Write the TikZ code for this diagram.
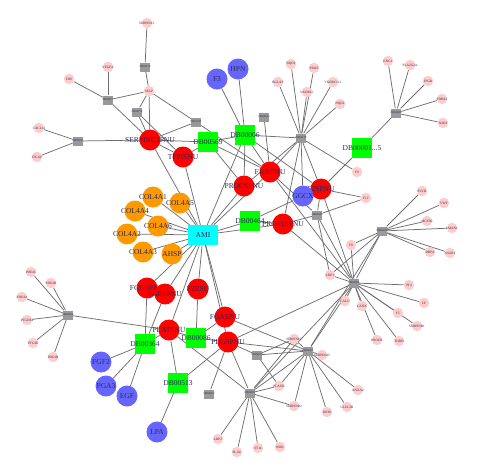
\documentclass[tikz,border=0pt]{standalone}
\usepackage{fontspec}
\setmainfont{Liberation Serif}
\usetikzlibrary{backgrounds}
\definecolor{nred}{HTML}{FF0000}
\definecolor{nora}{HTML}{FF9900}
\definecolor{nblue}{HTML}{6666FF}
\definecolor{ngreen}{HTML}{00FF00}
\definecolor{ncyan}{HTML}{00FFFF}
\definecolor{npink}{HTML}{FFCCCC}
\definecolor{ngray}{HTML}{999999}
\definecolor{nedge}{HTML}{6E6E6E}
\definecolor{ntext}{HTML}{2A2A5A}
\tikzset{
  lab/.style={label={[font=\fontsize{7.5}{7.5}\selectfont, text=ntext, inner sep=0pt]center:#1}},
  slab/.style={label={[font=\fontsize{3.4}{3.4}\selectfont, text=ntext, inner sep=0pt]center:#1}},
  glab/.style={label={[font=\fontsize{2.8}{2.8}\selectfont, text=ntext, inner sep=0pt]center:#1}},
  bigc/.style={circle, minimum size=21pt, inner sep=0pt, draw=none},
  rednode/.style={bigc, fill=nred, lab=#1},
  blunode/.style={bigc, fill=nblue, lab=#1},
  oranode/.style={bigc, fill=nora, lab=#1},
  grnnode/.style={rectangle, minimum size=20pt, inner sep=0pt, fill=ngreen, lab=#1},
  cynnode/.style={rectangle, minimum width=30pt, minimum height=20pt, inner sep=0pt, fill=ncyan, lab=#1},
  pnknode/.style={circle, minimum size=10.5pt, inner sep=0pt, fill=npink, slab=#1},
  grynode/.style={rectangle, minimum width=10pt, minimum height=9pt, inner sep=0pt, fill=ngray, glab=#1},
  edge/.style={draw=nedge, line width=0.75pt}
}
\begin{document}
\begin{tikzpicture}[x=1pt,y=-1pt]
\useasboundingbox (0,0) rectangle (496,475);
% red
\node[rednode=SERPINC1PNU] (serpc) at (150,140) {};
\node[rednode=TFPISNU] (tfpi) at (183,157) {};
\node[rednode=F10SPNU] (f10) at (270,172) {};
\node[rednode=PROCSPNU] (proc) at (244,186) {};
\node[rednode=F2SPNU] (f2) at (321,189) {};
\node[rednode=PROS1SPNU] (pros1) at (283,224) {};
\node[rednode=FGGSPNU] (fgg) at (147,288) {};
\node[rednode=FGBSPNU] (fgb) at (165,294) {};
\node[rednode=F2RSU] (f2r) at (198,289) {};
\node[rednode=FGASNU] (fga) at (225,317) {};
\node[rednode=PLGSPNU] (plg) at (228,342) {};
\node[rednode=PLATSNU] (plat) at (169,330) {};
% blue
\node[blunode=F3] (f3) at (217,79) {};
\node[blunode=HPN] (hpn) at (238,69) {};
\node[blunode=GGCX] (ggcx) at (303,196) {};
\node[blunode=FGF2] (fgf2) at (101,362) {};
\node[blunode=PGA3] (pga3) at (106,386) {};
\node[blunode=EGF] (egf) at (127,396) {};
\node[blunode=LPA] (lpa) at (157,432) {};
% orange
\node[oranode=COL4A1] (c1) at (153,197) {};
\node[oranode=COL4A5] (c5) at (180,203) {};
\node[oranode=COL4A4] (c4) at (135,211) {};
\node[oranode=COL4A6] (c6) at (158,226) {};
\node[oranode=COL4A2] (c2) at (127,234) {};
\node[oranode=COL4A3] (c3) at (143,252) {};
\node[oranode=AHSP] (ahsp) at (172,254) {};
% cyan
\node[cynnode=AMI] (ami) at (203,235) {};
% green
\node[grnnode=DB00569] (db569) at (208,142) {};
\node[grnnode=DB00006] (db006) at (245,135) {};
\node[grnnode=DB00464] (db464) at (250,221) {};
\node[grnnode=DB00001...5] (db001) at (362,148) {};
\node[grnnode=DB00364] (db364) at (145,344) {};
\node[grnnode=DB00086] (db086) at (196,338) {};
\node[grnnode=DB00513] (db513) at (178,383) {};
% gray
\node[grynode=DB00877] (gv) at (108,100) {};
\node[grynode=DB00181] (gc) at (78,141) {};
\node[grynode=DB00279] (gs) at (145,67) {};
\node[grynode=DB04779] (g4) at (137,112) {};
\node[grynode=DB01109] (g5) at (196,122) {};
\node[grynode=DB00623] (g6) at (264,117) {};
\node[grynode=DB00170] (g7) at (301,138) {};
\node[grynode=DB04895] (g8) at (396,113) {};
\node[grynode=DB00025] (g9) at (317,215) {};
\node[grynode=DB00025] (g10) at (382,231) {};
\node[grynode=DB00006] (g11) at (354,283) {};
\node[grynode=DB00094] (g12) at (68,315) {};
\node[grynode=DB00002] (g13) at (209,394) {};
\node[grynode=DB00031] (g14) at (250,393) {};
\node[grynode=DB00013] (g15) at (257,355) {};
\node[grynode=DB00001] (g16) at (308,351) {};
% pink
\node[pnknode=SERPINC1] (serpinc1) at (147,23) {};
\node[pnknode=SELP] (selp) at (149,91) {};
\node[pnknode=VEGFA] (vegfa) at (108,67) {};
\node[pnknode=FOS] (fos) at (69,79) {};
\node[pnknode=CXCL12] (cxcl) at (39,128) {};
\node[pnknode=ITGAV] (itgav) at (37,157) {};
\node[pnknode=BGLAP] (bglap) at (278,82) {};
\node[pnknode=NQO1] (nqo1) at (291,64) {};
\node[pnknode=PROZ] (proz) at (314,68) {};
\node[pnknode=VKORC1] (vkorc1) at (307,92) {};
\node[pnknode=VKORC1L1] (vkorc1l1) at (333,82) {};
\node[pnknode=NQO2] (nqo2) at (340,104) {};
\node[pnknode=KNG1] (p1) at (388,61) {};
\node[pnknode=PLA2G2A] (p2) at (410,65) {};
\node[pnknode=FSGR] (p3) at (428,81) {};
\node[pnknode=PDRX2] (p4) at (442,99) {};
\node[pnknode=SOD3] (p5) at (443,123) {};
\node[pnknode=F9] (f9) at (357,172) {};
\node[pnknode=F12] (f12) at (366,198) {};
\node[pnknode=F8] (f8) at (351,245) {};
\node[pnknode=LRP1] (lrp1) at (330,275) {};
\node[pnknode=CALU] (calu) at (345,301) {};
\node[pnknode=CANX] (canx) at (362,306) {};
\node[pnknode=PLVD] (q1) at (422,191) {};
\node[pnknode=VWF] (vwf) at (444,203) {};
\node[pnknode=MCFD2] (mcfd2) at (427,221) {};
\node[pnknode=LMAN1] (lman1) at (452,228) {};
\node[pnknode=DDPA] (q5) at (430,252) {};
\node[pnknode=ASGR1] (q6) at (450,253) {};
\node[pnknode=PF4] (pf4) at (409,285) {};
\node[pnknode=CP] (cp) at (424,303) {};
\node[pnknode=F5] (f5) at (398,313) {};
\node[pnknode=SERPIND1] (serpind1) at (417,326) {};
\node[pnknode=PROCR] (procr) at (377,340) {};
\node[pnknode=THBD] (thbd) at (399,341) {};
\node[pnknode=PDE4C] (pde4c) at (31,272) {};
\node[pnknode=PDE4D] (pde4d) at (51,283) {};
\node[pnknode=PDE4A] (pde4a) at (22,297) {};
\node[pnknode=PTGER4] (ptger) at (27,320) {};
\node[pnknode=PTGIR] (ptgir) at (33,343) {};
\node[pnknode=PDE4B] (pde4b) at (53,357) {};
\node[pnknode=SERPINE1] (serpine1) at (294,339) {};
\node[pnknode=SERPINA5] (serpina5) at (322,355) {};
\node[pnknode=PLAUR] (plaur) at (279,386) {};
\node[pnknode=SERPINB2] (serpinb2) at (294,406) {};
\node[pnknode=KRT8] (krt8) at (327,412) {};
\node[pnknode=CLEC3B] (clec3b) at (347,407) {};
\node[pnknode=ANXA2] (anxa2) at (358,390) {};
\node[pnknode=ST14] (st14) at (258,448) {};
\node[pnknode=NID1] (nid1) at (280,447) {};
\node[pnknode=LRP2] (lrp2) at (218,439) {};
\node[pnknode=PLAU] (plau) at (237,452) {};
\begin{scope}[on background layer]
\foreach \a/\b in {gv/vegfa, gv/fos, gv/selp, gv/serpc, gc/cxcl, gc/itgav, gc/serpc,
  gs/serpinc1, gs/selp, selp/serpc, selp/g5, selp/g4, g4/serpc, g4/tfpi, g5/serpc, g5/f10,
  serpc/db569, serpc/ami, serpc/tfpi, f3/db006, hpn/db006, db569/db006, db569/tfpi,
  db569/f10, db569/proc, db006/f10, db006/f2, db006/proc, db006/ami,
  g7/nqo1, g7/proz, g7/bglap, g7/vkorc1, g7/vkorc1l1, g7/nqo2, g7/f10, g7/f2, g7/proc,
  g7/ggcx, g7/pros1, g7/db006, g7/f9, g6/f10, db001/g8, db001/f2,
  g8/p1, g8/p2, g8/p3, g8/p4, g8/p5, ggcx/f2, ggcx/db464, f2/g9, f2/g11, f12/g9, f12/f2,
  g9/pros1, g9/g11, g9/lrp1, g9/f10,
  g11/f8, g11/lrp1, g11/calu, g11/canx, g11/pf4, g11/cp, g11/f5, g11/serpind1,
  g11/procr, g11/thbd, g11/g10, g11/f10, g11/pros1, g11/g16, g11/g14, g11/plg,
  g10/q1, g10/vwf, g10/mcfd2, g10/lman1, g10/q5, g10/q6, g10/f8, g10/lrp1, g10/g16,
  ami/c1, ami/c2, ami/c3, ami/c4, ami/c5, ami/c6, ami/ahsp, ami/fgg, ami/fgb, ami/f2r,
  ami/fga, ami/plg, ami/plat, ami/tfpi, ami/proc, ami/db464, ami/f10, ami/pros1,
  db464/pros1, fgg/db364, fgb/db364, f2r/db086,
  plat/db364, plat/db086, plat/db513, plat/g14, plat/g12,
  plg/db086, plg/db513, plg/g13, plg/g14, plg/g15, plg/g16, fga/g16, fga/db086,
  db364/fgf2, db364/pga3, db364/egf, db513/lpa,
  g12/pde4c, g12/pde4d, g12/pde4a, g12/ptger, g12/ptgir, g12/pde4b,
  g14/lrp2, g14/plau, g14/st14, g14/nid1, g14/plaur, g14/serpinb2, g14/serpine1, g14/g16,
  g16/serpine1, g16/serpina5, g16/plaur, g16/krt8, g16/clec3b, g16/anxa2, g16/serpinb2,
  g15/plaur, g15/serpine1, g15/g16}
  \draw[edge] (\a) -- (\b);
\end{scope}
\end{tikzpicture}
\end{document}
